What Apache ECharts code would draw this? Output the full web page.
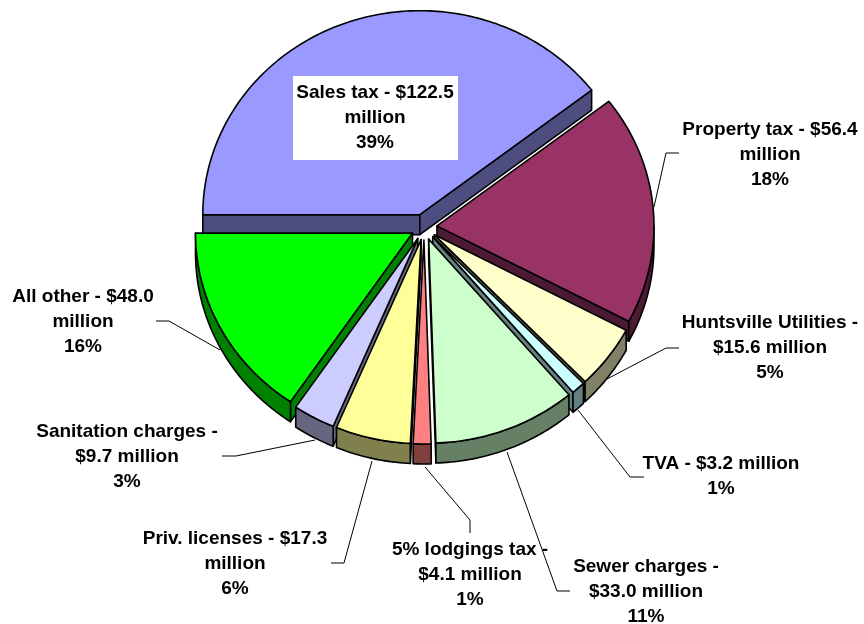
<!DOCTYPE html>
<html>
<head>
<meta charset="utf-8">
<style>html,body{margin:0;padding:0;background:#fff}#c{width:864px;height:624px}</style>
<script src="https://cdn.jsdelivr.net/npm/echarts@6/dist/echarts.min.js"></script>
</head>
<body>
<div id="c"></div>
<script>
// ---- data ----
const CATEGORIES = ['Sales tax','Property tax','Huntsville Utilities','TVA','Sewer charges','5% lodgings tax','Priv. licenses','Sanitation charges','All other'];
const VALUES = [122.5,56.4,15.6,3.2,33.0,4.1,17.3,9.7,48.0];
const PERCENTS = ['39%','18%','5%','1%','11%','1%','6%','3%','16%'];
const LABEL_LINES = [
  ['Sales tax - $122.5','million'],
  ['Property tax - $56.4','million'],
  ['Huntsville Utilities -','$15.6 million'],
  ['TVA - $3.2 million'],
  ['Sewer charges -','$33.0 million'],
  ['5% lodgings tax -','$4.1 million'],
  ['Priv. licenses - $17.3','million'],
  ['Sanitation charges -','$9.7 million'],
  ['All other - $48.0','million']
];
// ---- style and layout ----
const TOP_COLORS = ['#9999FF','#993366','#FFFFCC','#CCFFFF','#CCFFCC','#FF8080','#FFFF99','#CCCCFF','#00FF00'];
const SIDE_COLORS = ['#4D4D80','#4D1A33','#808066','#668080','#668066','#804040','#80804D','#666680','#008000'];
const DRAW_RANK = [0,1,2,3,4,5,3,2,1];
const LABEL_POS = [[375,93],[770,130],[770,323],[721,464],[646,567],[470,550],[235,539],[127,432],[83,297]];
const LEADERS = [
  null,
  [[679,153],[666,153],[654,207]],
  [[679,348],[666,348],[607,379]],
  [[644,477],[630,477],[578,410]],
  [[570,591],[557,591],[507,452]],
  [[470,533],[470,520],[425,467]],
  [[331,563],[344,563],[372,461]],
  [[222,456],[236,456],[315,440]],
  [[156,321],[169,321],[220,350]]
];
const CX = 424, CY = 227, RX = 217, RY = 204, DEPTH = 20, EXPLODE = 13, START = 270;
const FONT = 'bold 19px "Liberation Sans", Arial, sans-serif';

const total = VALUES.reduce((a,b)=>a+b,0);
const rad = d => d*Math.PI/180;
function sliceAngles(i){
  let before = 0;
  for(let k=0;k<i;k++) before += VALUES[k];
  const map = v => START + echarts.number.linearMap(v,[0,total],[0,360]);
  return [map(before), map(before+VALUES[i])];
}
function arcPoints(ox,oy,a0,a1,dy){
  const pts=[]; const n=Math.max(2,Math.ceil(Math.abs(a1-a0)));
  for(let k=0;k<=n;k++){
    const a=rad(a0+(a1-a0)*k/n);
    pts.push([ox+RX*Math.sin(a), oy-RY*Math.cos(a)+dy]);
  }
  return pts;
}
function renderItem(params){
  const i = params.dataIndex;
  const [a0,a1] = sliceAngles(i);
  const mid = rad((a0+a1)/2);
  const ox = CX + EXPLODE*Math.sin(mid), oy = CY - EXPLODE*Math.cos(mid);
  const z = 10 + DRAW_RANK[i]*5;
  const stroke = {stroke:'#000',lineWidth:1.6,lineJoin:'round'};
  const side = Object.assign({fill:SIDE_COLORS[i]},stroke);
  const children = [];
  const poly = (points,style,zz)=>children.push({type:'polygon',shape:{points},style,z2:zz,silent:true});
  const edge = a => [ox+RX*Math.sin(rad(a)), oy-RY*Math.cos(rad(a))];
  const face = a => { const e=edge(a); poly([[ox,oy],e,[e[0],e[1]+DEPTH],[ox,oy+DEPTH]],side,z); };
  // cut faces seen by the viewer
  const norm = a => ((a%360)+360)%360;
  if(norm(a0)>180) face(a0);
  if(norm(a1)>0 && norm(a1)<180) face(a1);
  // outer rim, lower half of the ellipse only
  for(const sh of [0,360]){
    const lo=Math.max(a0,90+sh), hi=Math.min(a1,270+sh);
    if(hi>lo){
      const top=arcPoints(ox,oy,lo,hi,0), bot=arcPoints(ox,oy,hi,lo,DEPTH);
      poly(top.concat(bot),side,z+1);
    }
  }
  // top surface
  poly([[ox,oy]].concat(arcPoints(ox,oy,a0,a1,0)),Object.assign({fill:TOP_COLORS[i]},stroke),z+2);
  // leader line
  if(LEADERS[i]) children.push({type:'polyline',shape:{points:LEADERS[i]},style:{stroke:'#000',lineWidth:1,fill:null},z2:2,silent:true});
  // label
  const lines = LABEL_LINES[i].concat([PERCENTS[i]]);
  const p = LABEL_POS[i];
  if(i===0){
    children.push({type:'rect',shape:{x:293,y:76,width:165,height:84},style:{fill:'#fff'},z2:70,silent:true});
  }
  lines.forEach((t,k)=>{
    children.push({type:'text',x:p[0],y:p[1]+k*24.8,z2:80,silent:true,
      style:{text:t,font:FONT,fill:'#000',align:'center',verticalAlign:'middle'}});
  });
  return {type:'group',children};
}
const chart = echarts.init(document.getElementById('c'),null,{renderer:'canvas'});
chart.setOption({
  backgroundColor:'#fff',
  animation:false,
  series:[{
    type:'custom',
    coordinateSystem:'none',
    renderItem,
    silent:true,
    data:CATEGORIES.map((name,i)=>({name,value:VALUES[i]}))
  }]
});
</script>
</body>
</html>
